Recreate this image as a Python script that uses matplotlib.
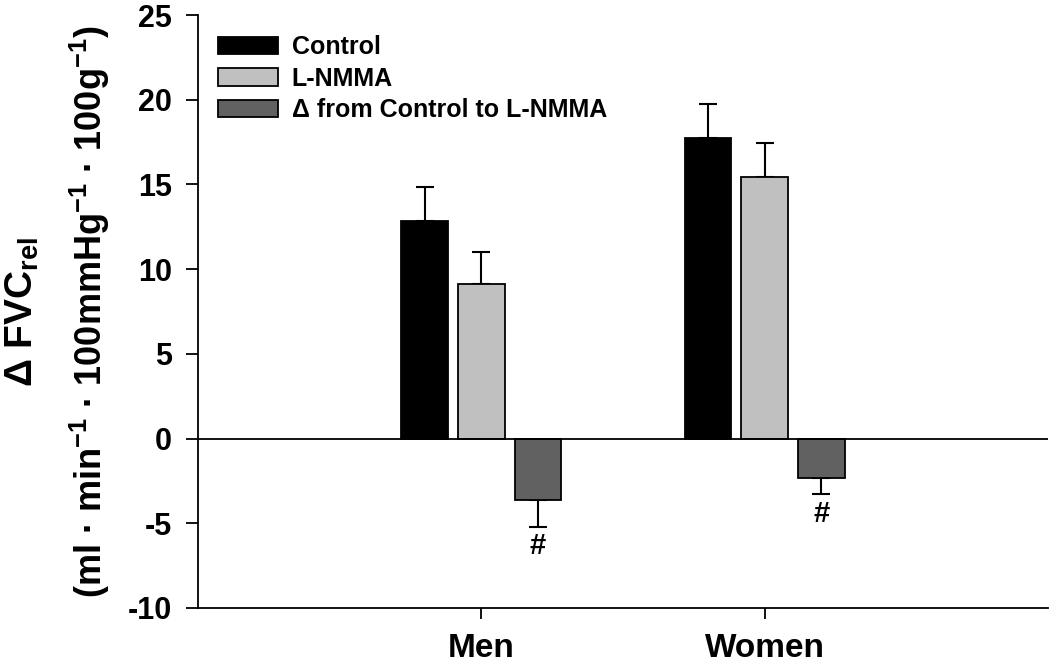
import matplotlib
matplotlib.use("Agg")
import matplotlib.pyplot as plt
import numpy as np

groups = ["Men", "Women"]
series = ["Control", "L-NMMA", "\u0394 from Control to L-NMMA"]
control = [12.85, 17.75]
control_err = [2.0, 2.0]
lnmma = [9.1, 15.45]
lnmma_err = [1.9, 2.0]
delta = [-3.65, -2.3]
delta_err = [1.55, 1.0]
annot = ["#", "#"]
yticks = [-10, -5, 0, 5, 10, 15, 20, 25]

colors = ["#000000", "#c0c0c0", "#616161"]

plt.rcParams['font.family'] = ['Liberation Sans', 'DejaVu Sans']
plt.rcParams['font.weight'] = 'bold'
plt.rcParams['mathtext.fontset'] = 'custom'
plt.rcParams['mathtext.rm'] = 'Liberation Sans:bold'
plt.rcParams['mathtext.bf'] = 'Liberation Sans:bold'
plt.rcParams['mathtext.it'] = 'Liberation Sans:bold'

fig = plt.figure(figsize=(10.5, 6.62), dpi=100)
ax = fig.add_axes([0.1886, 0.0816, 0.8094, 0.8957])

x = np.arange(len(groups))
w = 0.165
step = 0.2
data = [(control, control_err), (lnmma, lnmma_err), (delta, delta_err)]
for i, ((vals, errs), c, lab) in enumerate(zip(data, colors, series)):
    xs = x + (i - 1) * step
    ax.bar(xs, vals, width=w, color=c, edgecolor='black', linewidth=1.3,
           label=lab, zorder=3)
    lo = [e if v < 0 else 0 for v, e in zip(vals, errs)]
    hi = [e if v >= 0 else 0 for v, e in zip(vals, errs)]
    ax.errorbar(xs, vals, yerr=[lo, hi], fmt='none', ecolor='black',
                elinewidth=1.5, capsize=6.5, capthick=1.5, zorder=2)
    if i == 2:
        for xi, v, e, a in zip(xs, vals, errs, annot):
            ax.text(xi, v - e - 0.3, a, ha='center', va='top',
                    fontsize=21, fontweight='bold')

ax.axhline(0, color='black', linewidth=1.3, zorder=4)

ax.set_xlim(-1, 2)
ax.set_ylim(-10, 25)
ax.set_yticks(yticks)
ax.set_yticklabels([str(t) for t in yticks])
ax.set_xticks(x)
ax.set_xticklabels(groups)

for s in ['top', 'right']:
    ax.spines[s].set_visible(False)
for s in ['left', 'bottom']:
    ax.spines[s].set_linewidth(1.3)

ax.tick_params(axis='y', direction='out', length=9, width=1.3, pad=10,
               labelsize=22)
ax.tick_params(axis='x', direction='out', length=8, width=1.3, pad=10,
               labelsize=24)
for lab in ax.get_xticklabels() + ax.get_yticklabels():
    lab.set_fontweight('bold')

leg = ax.legend(loc='upper left', bbox_to_anchor=(0.003, 0.995), frameon=False,
                fontsize=18, handlelength=2.4, handleheight=0.7,
                labelspacing=0.3, handletextpad=0.55, borderaxespad=0.3)
for t in leg.get_texts():
    t.set_fontweight('bold')

fig.text(0.021, 0.5295, "\u0394 FVC$_{\\mathbf{rel}}$", rotation=90,
         ha='center', va='center', fontsize=28, fontweight='bold')
fig.text(0.086, 0.5295,
         "(ml \u00b7 min$^{\\mathbf{-1}}$ \u00b7 100mmHg$^{\\mathbf{-1}}$ \u00b7 100g$^{\\mathbf{-1}}$)",
         rotation=90, ha='center', va='center', fontsize=26, fontweight='bold')

fig.savefig("out.png", dpi=100)
